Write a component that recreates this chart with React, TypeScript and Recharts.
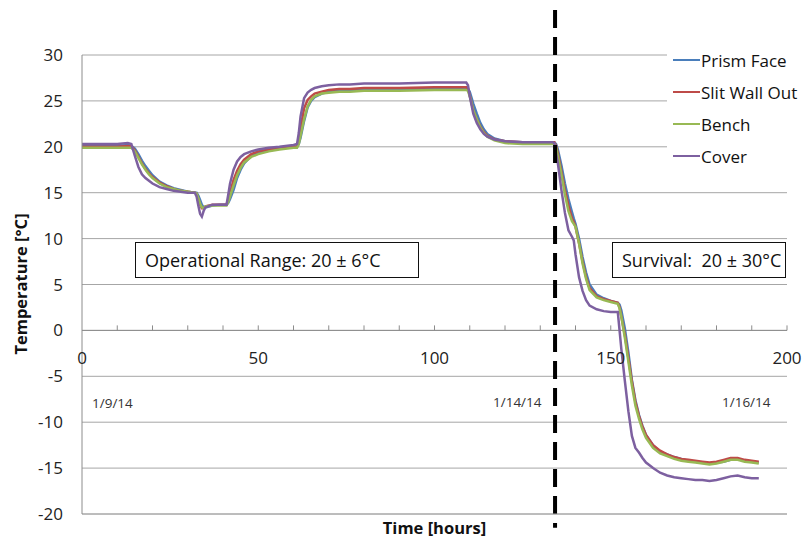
import React from "react";
import {
  LineChart,
  Line,
  XAxis,
  YAxis,
  CartesianGrid,
  ReferenceLine,
  Legend,
} from "recharts";

// ---- data ----
const hours = [
  0, 5, 10, 13, 14, 15, 16, 17, 18, 19, 20, 22, 24, 26, 28, 30, 32, 32.5, 33, 33.5,
  34, 34.5, 35, 37, 39, 41, 41.5, 42, 43, 44, 45, 46, 48, 50, 53, 56, 60, 61, 61.5, 62,
  63, 64, 65, 66, 68, 70, 73, 76, 80, 90, 100, 105, 109, 109.5, 110, 111, 112, 113, 114, 115,
  117, 120, 125, 130, 133.5, 134, 134.5, 135, 136, 137, 138, 139, 139.5, 140, 141, 142, 143, 144,
  146, 148, 150, 152, 152.5, 153, 154, 155, 156, 157, 158, 159, 160, 162, 164, 166, 168, 170,
  172, 174, 176, 178, 180, 182, 184, 186, 188, 190, 192,
];

const prismFace = [
  20.1, 20.1, 20.1, 20.2, 20.1, 19.8, 19.2, 18.5, 17.9, 17.4, 16.9, 16.2, 15.8, 15.5, 15.3, 15.1, 15.0, 15.0, 14.7, 14.2,
  13.7, 13.4, 13.4, 13.6, 13.7, 13.7, 13.9, 14.3, 15.3, 16.6, 17.5, 18.2, 19.0, 19.3, 19.6, 19.8, 20.0, 20.0, 20.3, 21.0,
  22.8, 24.3, 25.0, 25.4, 25.8, 26.0, 26.1, 26.2, 26.2, 26.3, 26.3, 26.3, 26.3, 26.3, 26.0, 24.7, 23.6, 22.6, 21.9, 21.4,
  20.9, 20.6, 20.5, 20.5, 20.5, 20.5, 20.3, 19.7, 18.0, 16.0, 14.3, 12.9, 12.2, 11.6, 10.0, 8.0, 6.3, 5.0,
  3.9, 3.5, 3.2, 3.0, 2.8, 2.2, 0.2, -2.4, -5.4, -7.6, -9.2, -10.4, -11.4, -12.5, -13.2, -13.5, -13.8, -14.0,
  -14.2, -14.3, -14.4, -14.5, -14.4, -14.3, -14.1, -14.0, -14.2, -14.3, -14.4,
];

const slitWallOut = [
  20.0, 20.0, 20.0, 20.1, 20.1, 19.6, 18.9, 18.2, 17.6, 17.1, 16.7, 16.1, 15.7, 15.4, 15.2, 15.1, 15.0, 14.9, 14.3, 13.7,
  13.3, 13.3, 13.5, 13.7, 13.7, 13.7, 14.3, 15.0, 16.4, 17.4, 18.1, 18.6, 19.2, 19.5, 19.7, 19.8, 20.0, 20.0, 20.8, 22.0,
  24.2, 25.1, 25.5, 25.8, 26.0, 26.2, 26.3, 26.3, 26.4, 26.4, 26.5, 26.5, 26.5, 26.3, 25.6, 24.0, 23.0, 22.2, 21.6, 21.2,
  20.8, 20.6, 20.5, 20.5, 20.5, 20.5, 20.1, 19.3, 17.3, 15.3, 13.6, 12.2, 11.8, 11.3, 9.5, 7.5, 5.8, 4.6,
  3.7, 3.4, 3.2, 3.0, 2.5, 1.5, -0.5, -3.0, -5.6, -7.8, -9.3, -10.5, -11.4, -12.5, -13.1, -13.5, -13.8, -14.0,
  -14.1, -14.2, -14.3, -14.4, -14.3, -14.1, -13.9, -13.9, -14.1, -14.2, -14.3,
];

const bench = [
  19.9, 19.9, 19.9, 19.9, 19.9, 19.5, 18.8, 18.1, 17.5, 17.0, 16.6, 16.0, 15.6, 15.4, 15.2, 15.1, 15.0, 14.9, 14.4, 13.8,
  13.4, 13.3, 13.5, 13.6, 13.6, 13.6, 14.0, 14.6, 15.8, 16.9, 17.7, 18.3, 18.9, 19.2, 19.5, 19.7, 19.9, 19.9, 20.3, 21.2,
  23.0, 24.4, 25.1, 25.5, 25.8, 25.9, 26.0, 26.0, 26.1, 26.1, 26.2, 26.2, 26.2, 26.1, 25.5, 24.0, 23.0, 22.1, 21.5, 21.1,
  20.7, 20.4, 20.3, 20.3, 20.3, 20.3, 19.9, 19.0, 17.0, 14.8, 13.0, 11.9, 11.6, 11.3, 9.5, 7.3, 5.6, 4.4,
  3.6, 3.3, 3.1, 2.9, 2.4, 1.5, -0.8, -3.4, -6.0, -8.2, -9.6, -10.8, -11.7, -12.8, -13.4, -13.7, -14.0, -14.2,
  -14.3, -14.4, -14.5, -14.6, -14.5, -14.3, -14.1, -14.1, -14.3, -14.4, -14.5,
];

const cover = [
  20.3, 20.3, 20.3, 20.4, 20.3, 19.0, 17.8, 17.0, 16.6, 16.3, 16.0, 15.6, 15.4, 15.2, 15.1, 15.0, 15.0, 14.6, 13.6, 12.7,
  12.4, 13.0, 13.4, 13.7, 13.7, 13.7, 14.8, 16.0, 17.5, 18.4, 18.9, 19.2, 19.5, 19.7, 19.9, 20.0, 20.2, 20.3, 21.5, 23.3,
  25.3, 25.9, 26.2, 26.4, 26.6, 26.7, 26.8, 26.8, 26.9, 26.9, 27.0, 27.0, 27.0, 26.7, 25.5, 23.6, 22.6, 21.9, 21.4, 21.1,
  20.8, 20.6, 20.5, 20.5, 20.5, 20.4, 19.2, 18.2, 15.3, 12.8, 10.9, 10.2, 9.8, 8.3, 5.8, 4.3, 3.3, 2.7,
  2.3, 2.1, 2.0, 2.0, 0.0, -2.0, -5.5, -8.8, -11.5, -12.8, -13.3, -13.9, -14.4, -15.0, -15.5, -15.8, -16.0, -16.1,
  -16.2, -16.3, -16.3, -16.4, -16.3, -16.1, -15.9, -15.8, -16.0, -16.1, -16.1,
];

const seriesNames = ["Prism Face", "Slit Wall Out", "Bench", "Cover"];
const xTicks = [0, 10, 20, 30, 40, 50, 60, 70, 80, 90, 100, 110, 120, 130, 140, 150, 160, 170, 180, 190, 200];
const xLabelTicks = [0, 50, 100, 150, 200];
const yTicks = [-20, -15, -10, -5, 0, 5, 10, 15, 20, 25, 30];
const transitionHour = 134.2;
const dateLabels = ["1/9/14", "1/14/14", "1/16/14"];
const operationalText = "Operational Range: 20 \u00b1 6\u00b0C";
const survivalText = "Survival:  20 \u00b1 30\u00b0C";

const data = hours.map((t, i) => ({
  t,
  prism: prismFace[i],
  slit: slitWallOut[i],
  bench: bench[i],
  cover: cover[i],
}));

// ---- layout ----
const W = 812;
const H = 540;
const M_TOP = 55;
const PLOT_LEFT = 82;
const PLOT_RIGHT = 787;
const PLOT_BOTTOM = 514;
const Y_AXIS_W = 60;
const PLOT_H = PLOT_BOTTOM - M_TOP;
const Y_MIN = -20;
const Y_MAX = 30;
const yZero = M_TOP + (PLOT_H * (Y_MAX - 0)) / (Y_MAX - Y_MIN);
const FONT = "'Open Sans', 'DejaVu Sans', sans-serif";
const GRID = "#a6a6a6";
const AXIS = "#8c8c8c";

const XTick = (props: any) => {
  const { x, payload } = props;
  const v = payload.value;
  return (
    <g>
      {v !== 0 && <line x1={x} x2={x} y1={yZero} y2={yZero - 5} stroke={AXIS} strokeWidth={1} />}
      {xLabelTicks.includes(v) && (
        <text x={x} y={yZero + 27} textAnchor="middle" dominantBaseline="central" fontSize={17} fontFamily={FONT} fill="#222">
          {v}
        </text>
      )}
    </g>
  );
};

const LegendContent = (props: any) => {
  const payload = [...(props.payload || [])].sort(
    (a: any, b: any) => seriesNames.indexOf(a.value) - seriesNames.indexOf(b.value)
  );
  return (
    <div style={{ background: "#fff", fontFamily: FONT, fontSize: 17, color: "#111", paddingLeft: 6 }}>
      {payload.map((e: any) => (
        <div key={e.value} style={{ display: "flex", alignItems: "center", height: 32 }}>
          <span style={{ display: "inline-block", width: 27, height: 2.5, background: e.color }} />
          <span style={{ marginLeft: 1, whiteSpace: "nowrap" }}>{e.value}</span>
        </div>
      ))}
    </div>
  );
};

const boxStyle: React.CSSProperties = {
  position: "absolute",
  border: "1.5px solid #111",
  background: "#fff",
  fontFamily: FONT,
  fontSize: 18,
  color: "#111",
  boxSizing: "border-box",
  display: "flex",
  alignItems: "center",
  paddingLeft: 9,
  whiteSpace: "pre",
};

const dateStyle: React.CSSProperties = {
  position: "absolute",
  fontFamily: FONT,
  fontSize: 13.5,
  color: "#333",
  whiteSpace: "nowrap",
  lineHeight: "16px",
};

export default function App() {
  return (
    <div style={{ position: "absolute", left: 0, top: 0, width: W, height: H, background: "#fff", overflow: "hidden" }}>
      <LineChart
        width={W}
        height={H}
        data={data}
        margin={{ top: M_TOP, right: W - PLOT_RIGHT, bottom: 0, left: PLOT_LEFT - Y_AXIS_W }}
      >
        <CartesianGrid vertical={false} stroke={GRID} horizontalValues={yTicks} />
        <XAxis
          dataKey="t"
          type="number"
          domain={[0, 200]}
          ticks={xTicks}
          interval={0}
          height={H - PLOT_BOTTOM}
          axisLine={{ stroke: GRID }}
          tickLine={false}
          tickSize={0}
          tick={<XTick />}
          label={{
            value: "Time [hours]",
            position: "insideBottom",
            offset: 6,
            style: { fontFamily: FONT, fontSize: 16.5, fontWeight: 700, fill: "#111" },
          }}
        />
        <YAxis
          type="number"
          domain={[Y_MIN, Y_MAX]}
          ticks={yTicks}
          interval={0}
          width={Y_AXIS_W}
          axisLine={{ stroke: AXIS }}
          tickLine={false}
          tickSize={0}
          tickMargin={19}
          tick={{ fontFamily: FONT, fontSize: 17, fill: "#222" }}
        />
        <ReferenceLine y={0} stroke={AXIS} strokeWidth={1} />
        <Line type="linear" dataKey="prism" name={seriesNames[0]} stroke="#4A7EBB" strokeWidth={2.5} dot={false} isAnimationActive={false} />
        <Line type="linear" dataKey="slit" name={seriesNames[1]} stroke="#BE4B48" strokeWidth={2.5} dot={false} isAnimationActive={false} />
        <Line type="linear" dataKey="bench" name={seriesNames[2]} stroke="#98B954" strokeWidth={2.5} dot={false} isAnimationActive={false} />
        <Line type="linear" dataKey="cover" name={seriesNames[3]} stroke="#7D60A0" strokeWidth={2.5} dot={false} isAnimationActive={false} />
        <ReferenceLine
          segment={[
            { x: transitionHour, y: 34.9 },
            { x: transitionHour, y: -21.5 },
          ]}
          ifOverflow="visible"
          stroke="#000"
          strokeWidth={4}
          strokeDasharray="18 9"
        />
        <Legend
          layout="vertical"
          align="center"
          verticalAlign="middle"
          itemSorter={null as any}
          content={<LegendContent />}
          wrapperStyle={{ position: "absolute", left: 667, top: 44, width: 145, height: 130 }}
        />
      </LineChart>
      <div
        style={{
          position: "absolute",
          left: 20,
          top: 284,
          transform: "translate(-50%, -50%) rotate(-90deg)",
          fontFamily: FONT,
          fontSize: 16.5,
          fontWeight: 700,
          color: "#111",
          whiteSpace: "nowrap",
        }}
      >
        Temperature [°C]
      </div>
      <div style={{ ...boxStyle, left: 135, top: 242, width: 284, height: 36 }}>{operationalText}</div>
      <div style={{ ...boxStyle, left: 612, top: 242, width: 174, height: 36 }}>{survivalText}</div>
      <div style={{ ...dateStyle, left: 92, top: 395 }}>{dateLabels[0]}</div>
      <div style={{ ...dateStyle, left: 493, top: 394 }}>{dateLabels[1]}</div>
      <div style={{ ...dateStyle, left: 722, top: 394 }}>{dateLabels[2]}</div>
    </div>
  );
}
